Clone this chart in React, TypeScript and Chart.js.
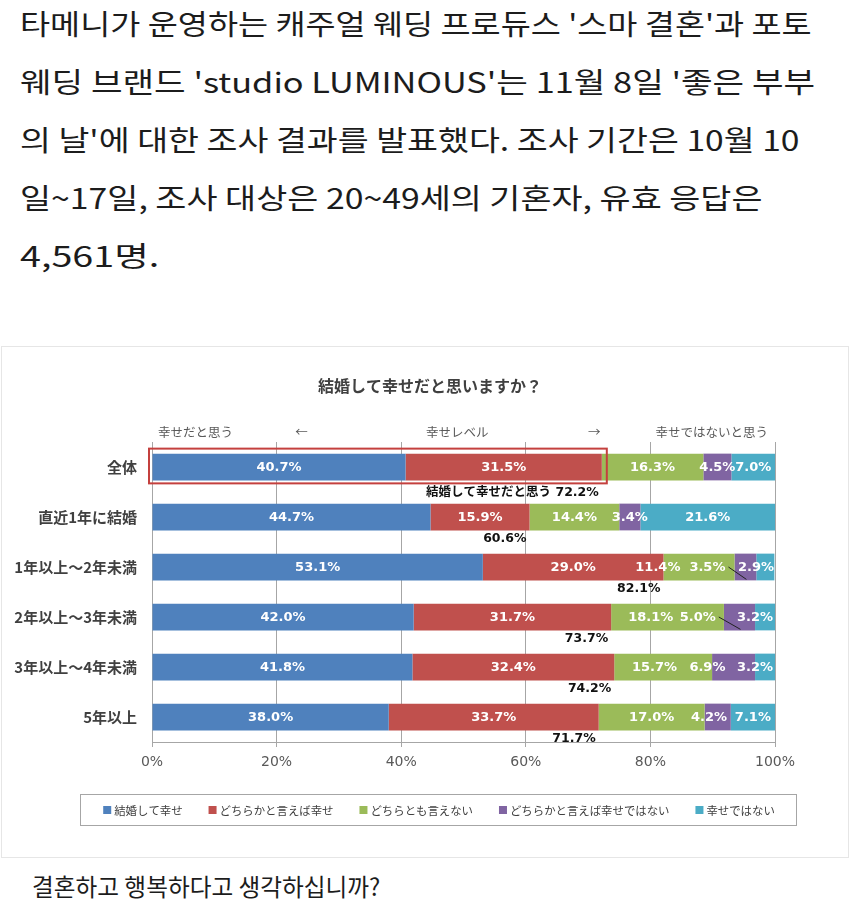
import React, { useEffect, useLayoutEffect, useRef, useState } from "react";
import { Chart, registerables } from "chart.js";

Chart.register(...registerables);

// ---- data ----
const categories = ["全体", "直近1年に結婚", "1年以上～2年未満", "2年以上～3年未満", "3年以上～4年未満", "5年以上"];
const seriesNames = ["結婚して幸せ", "どちらかと言えば幸せ", "どちらとも言えない", "どちらかと言えば幸せではない", "幸せではない"];
const happy = [40.7, 44.7, 53.1, 42.0, 41.8, 38.0];
const ratherHappy = [31.5, 15.9, 29.0, 31.7, 32.4, 33.7];
const neutral = [16.3, 14.4, 11.4, 18.1, 15.7, 17.0];
const ratherUnhappy = [4.5, 3.4, 3.5, 5.0, 6.9, 4.2];
const unhappy = [7.0, 21.6, 2.9, 3.2, 3.2, 7.1];
const happyTotals = [72.2, 60.6, 82.1, 73.7, 74.2, 71.7];
const xTicks = [0, 20, 40, 60, 80, 100];
const chartTitle = "結婚して幸せだと思いますか？";
const headerLeft = "幸せだと思う";
const headerMid = "幸せレベル";
const headerRight = "幸せではないと思う";
const totalPrefix = "結婚して幸せだと思う ";

const introLines = [
  "타메니가 운영하는 캐주얼 웨딩 프로듀스 '스마 결혼'과 포토",
  "웨딩 브랜드 'studio LUMINOUS'는 11월 8일 '좋은 부부",
  "의 날'에 대한 조사 결과를 발표했다. 조사 기간은 10월 10",
  "일~17일, 조사 대상은 20~49세의 기혼자, 유효 응답은",
  "4,561명.",
];
const outroLine = "결혼하고 행복하다고 생각하십니까?";

const seriesValues = [happy, ratherHappy, neutral, ratherUnhappy, unhappy];
const colors = ["#4F81BD", "#C0504D", "#9BBB59", "#8064A2", "#4BACC6"];

// label nudges (in % units) for crowded small segments, "dataset-row"
const labelShift: Record<string, number> = {
  "2-2": -6.6, "3-2": -6.1, "4-2": -1.5,
  "2-3": -2.7, "3-3": -6.7, "4-3": -1.6,
  "2-4": -1.4, "3-4": -4.2, "4-4": -1.6,
  "3-5": -1.4,
};
const leaderRows = [2, 3];

// text line widths of the page copy (layout only)
const introWidths = [792, 795, 779, 742, 140];
const outroWidth = 348;

const CANVAS_W = 850;
const CANVAS_H = 512;

const decorPlugin = {
  id: "decor",
  afterDatasetsDraw(chart: any) {
    const ctx: CanvasRenderingContext2D = chart.ctx;
    const xs = chart.scales.x;
    const pct = xs.getPixelForValue(1) - xs.getPixelForValue(0);
    ctx.save();
    // segment labels
    ctx.font = "bold 13px 'DejaVu Sans'";
    ctx.textAlign = "center";
    ctx.textBaseline = "middle";
    chart.data.datasets.forEach((ds: any, di: number) => {
      const meta = chart.getDatasetMeta(di);
      meta.data.forEach((bar: any, ri: number) => {
        const v = ds.data[ri] as number;
        const shift = (labelShift[`${di}-${ri}`] || 0) * pct;
        const cx = (bar.x + bar.base) / 2 + shift;
        const txt = v.toFixed(1) + "%";
        ctx.fillStyle = "#ffffff";
        ctx.fillText(txt, cx, bar.y + 1);
        if (di === 3 && leaderRows.includes(ri)) {
          const w = ctx.measureText(txt).width;
          ctx.strokeStyle = "#222";
          ctx.lineWidth = 1;
          ctx.beginPath();
          ctx.moveTo(cx + w / 2 + 3, bar.y);
          ctx.lineTo((bar.x + bar.base) / 2 + 1, bar.y + bar.height / 2 - 1);
          ctx.stroke();
        }
      });
    });
    // totals below bars
    const meta0 = chart.getDatasetMeta(0);
    ctx.font = "bold 12.5px 'DejaVu Sans', 'Noto Sans CJK JP'";
    ctx.textAlign = "right";
    ctx.fillStyle = "#111";
    meta0.data.forEach((bar: any, ri: number) => {
      const t = (ri === 0 ? totalPrefix : "") + happyTotals[ri].toFixed(1) + "%";
      const x = xs.getPixelForValue(happyTotals[ri]) - 3;
      const y = bar.y + bar.height / 2 + (ri === 0 ? 12 : 8);
      ctx.fillText(t, x, y);
    });
    // red highlight box on first row
    const b0 = meta0.data[0];
    const x0 = xs.getPixelForValue(0) - 3;
    const x1 = xs.getPixelForValue(happyTotals[0]) + 5;
    ctx.strokeStyle = "#C4403E";
    ctx.lineWidth = 2;
    ctx.strokeRect(x0, b0.y - b0.height / 2 - 5, x1 - x0, b0.height + 8);
    ctx.restore();
  },
  afterDraw(chart: any) {
    const ctx: CanvasRenderingContext2D = chart.ctx;
    const xs = chart.scales.x;
    const area = chart.chartArea;
    ctx.save();
    // title
    ctx.font = "bold 16px 'Noto Sans CJK JP'";
    ctx.fillStyle = "#404040";
    ctx.textAlign = "center";
    ctx.textBaseline = "middle";
    ctx.fillText(chartTitle, 430, 40);
    // header row
    const hy = area.top - 10;
    ctx.font = "12.5px 'Noto Sans CJK JP'";
    ctx.fillStyle = "#595959";
    ctx.textAlign = "left";
    ctx.fillText(headerLeft, area.left + 6, hy);
    ctx.textAlign = "center";
    ctx.fillText("←", xs.getPixelForValue(24), hy);
    ctx.fillText(headerMid, xs.getPixelForValue(49), hy);
    ctx.fillText("→", xs.getPixelForValue(71), hy);
    ctx.textAlign = "right";
    ctx.fillText(headerRight, area.right - 7, hy);
    // legend
    const ly = 464;
    const cxl = 439;
    ctx.font = "11.4px 'Noto Sans CJK JP'";
    ctx.textBaseline = "middle";
    ctx.textAlign = "left";
    const sq = 8, gapSq = 3, gapItem = 26;
    const widths = seriesNames.map((n) => sq + gapSq + ctx.measureText(n).width);
    const total = widths.reduce((a, b) => a + b, 0) + gapItem * (seriesNames.length - 1);
    let x = cxl - total / 2;
    seriesNames.forEach((n, i) => {
      ctx.fillStyle = colors[i];
      ctx.fillRect(x, ly - 4, sq, sq);
      ctx.fillStyle = "#404040";
      ctx.fillText(n, x + sq + gapSq, ly + 1);
      x += widths[i] + gapItem;
    });
    ctx.strokeStyle = "#a6a6a6";
    ctx.lineWidth = 1;
    ctx.strokeRect(cxl - 359 + 0.5, ly - 16 + 0.5, 716, 31);
    ctx.restore();
  },
};

export default function App() {
  const canvasRef = useRef<HTMLCanvasElement>(null);
  const spanRefs = useRef<(HTMLSpanElement | null)[]>([]);
  const [scales, setScales] = useState<number[]>([1, 1, 1, 1, 1, 1]);

  useLayoutEffect(() => {
    document.body.style.margin = "0";
    const targets = [...introWidths, outroWidth];
    const measure = () => {
      const next = targets.map((t, i) => {
        const el = spanRefs.current[i];
        const w = el ? el.offsetWidth : 0;
        return w > 0 ? t / w : 1;
      });
      setScales(next);
    };
    measure();
    (document as any).fonts?.ready?.then(measure);
  }, []);

  useEffect(() => {
    const canvas = canvasRef.current!;
    const chart = new Chart(canvas, {
      type: "bar",
      data: {
        labels: categories,
        datasets: seriesValues.map((d, i) => ({
          label: seriesNames[i],
          data: d,
          backgroundColor: colors[i],
          borderWidth: 0,
          barPercentage: 0.535,
          categoryPercentage: 1,
        })),
      },
      options: {
        indexAxis: "y",
        responsive: false,
        animation: false,
        devicePixelRatio: 1,
        layout: { padding: { top: 96, right: 75, bottom: 0, left: 0 } },
        plugins: {
          legend: { display: false },
          title: { display: false },
          tooltip: { enabled: false },
        },
        scales: {
          x: {
            stacked: true,
            min: 0,
            max: 100,
            afterBuildTicks: (s: any) => {
              s.ticks = xTicks.map((v) => ({ value: v }));
            },
            ticks: {
              callback: (v: any) => v + "%",
              color: "#595959",
              font: { size: 14, family: "'DejaVu Sans'" },
              padding: 7,
            },
            grid: { color: "#a6a6a6", tickLength: 5, drawTicks: true },
            border: { display: true, color: "#a6a6a6" },
            afterFit: (s: any) => {
              s.height = CANVAS_H - 396;
            },
          },
          y: {
            stacked: true,
            grid: { display: false },
            border: { display: true, color: "#a6a6a6" },
            ticks: {
              color: "#404040",
              font: { size: 15, weight: "bold", family: "'Noto Sans CJK JP'" },
              padding: 7,
            },
            afterFit: (s: any) => {
              s.width = 152;
            },
          },
        },
      } as any,
      plugins: [decorPlugin],
    });
    return () => chart.destroy();
  }, []);

  const lineStyle = (left: number, top: number, size: number, k: number): React.CSSProperties => ({
    position: "absolute",
    left,
    top,
    fontSize: size,
    lineHeight: `${size}px`,
    whiteSpace: "nowrap",
    fontFamily: "'Noto Sans CJK KR', sans-serif",
    color: "#1c1c1c",
    transform: `scaleX(${k})`,
    transformOrigin: "left center",
  });

  return (
    <div style={{ position: "absolute", left: 0, top: 0, width: 850, height: 915, background: "#fff", overflow: "hidden" }}>
      {introLines.map((t, i) => (
        <div key={i} style={lineStyle(20, 9 + i * 58, 28, scales[i])}>
          <span ref={(el) => { spanRefs.current[i] = el; }} style={{ display: "inline-block" }}>{t}</span>
        </div>
      ))}
      <div
        style={{
          position: "absolute",
          left: 1,
          top: 346,
          width: 846,
          height: 510,
          border: "1px solid #e6e6e6",
          background: "#fff",
        }}
      />
      <canvas
        ref={canvasRef}
        width={CANVAS_W}
        height={CANVAS_H}
        style={{ position: "absolute", left: 0, top: 346, width: CANVAS_W, height: CANVAS_H }}
      />
      <div style={lineStyle(32, 874, 24, scales[5])}>
        <span ref={(el) => { spanRefs.current[5] = el; }} style={{ display: "inline-block" }}>{outroLine}</span>
      </div>
    </div>
  );
}
